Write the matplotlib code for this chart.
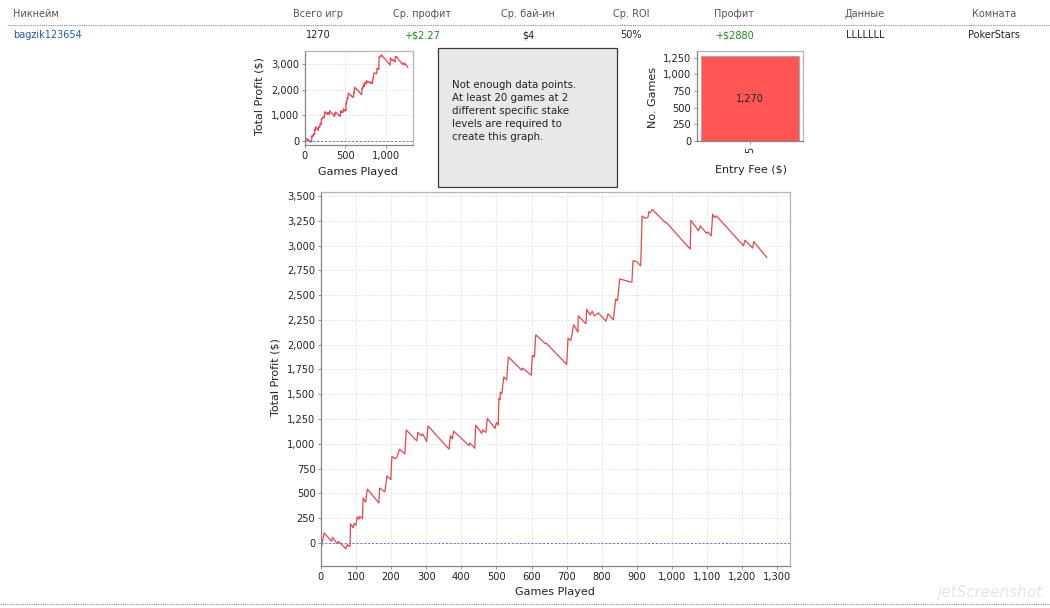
import matplotlib
matplotlib.use('Agg')
import matplotlib.pyplot as plt
from matplotlib.lines import Line2D
from matplotlib.patches import Rectangle
from matplotlib.ticker import FuncFormatter, MultipleLocator
import numpy as np

W, H = 1050, 608

# header table
header_cols = ['Никнейм', 'Всего игр', 'Ср. профит', 'Ср. бай-ин', 'Ср. ROI', 'Профит', 'Данные', 'Комната']
row_values = ['bagzik123654', '1270', '+$2.27', '$4', '50%', '+$2880', 'LLLLLLL', 'PokerStars']

# cumulative profit (games played, total profit $)
games = [0, 2, 3, 9, 30, 33, 46, 50, 71, 75, 80, 83, 84, 92, 94, 100, 103, 108, 110, 118,
         120, 127, 132, 165, 167, 182, 188, 199, 202, 211, 216, 224, 239, 243, 273, 276,
         286, 290, 301, 305, 365, 369, 374, 378, 422, 424, 438, 441, 458, 460, 470, 474,
         496, 500, 505, 507, 510, 511, 515, 521, 529, 534, 572, 574, 599, 602, 608, 612,
         639, 642, 700, 704, 712, 720, 732, 733, 755, 757, 767, 773, 779, 790, 812, 818,
         833, 840, 845, 851, 886, 889, 899, 911, 915, 923, 932, 934, 938, 944, 976, 987,
         1052, 1054, 1076, 1081, 1099, 1102, 1112, 1116, 1122, 1127, 1204, 1208, 1230,
         1233, 1270]
profit = [0, -30, 0, 102, 18, 58, -5, 15, -58, -15, -35, -30, 193, 153, 196, 180, 263, 240,
          269, 246, 454, 410, 544, 404, 554, 515, 678, 640, 872, 850, 865, 946, 899, 1140,
          1029, 1116, 1080, 1100, 1022, 1180, 946, 1082, 1050, 1128, 982, 1010, 956, 1188,
          1106, 1140, 1116, 1257, 1155, 1215, 1190, 1458, 1445, 1520, 1505, 1675, 1645,
          1876, 1742, 1765, 1692, 1893, 1876, 2100, 2010, 2015, 1802, 2066, 2040, 2201,
          2127, 2290, 2211, 2355, 2300, 2337, 2290, 2321, 2237, 2311, 2250, 2460, 2445,
          2663, 2630, 2846, 2840, 2796, 3298, 3275, 3285, 3341, 3330, 3365, 3248, 3221,
          2964, 3255, 3148, 3198, 3121, 3138, 3097, 3315, 3281, 3298, 2997, 3054, 2974,
          3040, 2880]

# games per entry fee
fee_labels = ['5']
fee_counts = [1270]

box_lines = ['Not enough data points.', 'At least 20 games at 2', 'different specific stake',
             'levels are required to', 'create this graph.']

LINE = '#e5474f'
ZERO = '#6f68d0'
TXT = '#222222'
plt.rcParams['font.family'] = 'DejaVu Sans'

fig = plt.figure(figsize=(W / 100, H / 100), dpi=100)
fig.patch.set_facecolor('white')


def fy(y):
    return 1 - y / H


def add_ax(left, top, right, bottom):
    return fig.add_axes([left / W, 1 - bottom / H, (right - left) / W, (bottom - top) / H])


def ftext(x, y, s, **kw):
    kw.setdefault('ha', 'center')
    kw.setdefault('va', 'center')
    kw.setdefault('color', TXT)
    fig.text(x / W, fy(y), s, **kw)


comma = FuncFormatter(lambda v, p: f'{int(v):,}')


def style_ax(ax, size=7.1):
    for side in ['left', 'bottom']:
        ax.spines[side].set_color('#858585')
    for side in ['top', 'right']:
        ax.spines[side].set_color('#b5b5b5')
    for sp in ax.spines.values():
        sp.set_linewidth(0.9)
    ax.tick_params(direction='out', length=2, width=0.6, color='#858585',
                   labelsize=size, labelcolor=TXT, pad=2)
    ax.grid(True, color='#dcdcdc', linestyle=(0, (2, 2)), linewidth=0.6)
    ax.set_axisbelow(True)


# header
header_x = [13, 318, 422, 528, 631, 734, 865, 994]
for i, (h, v) in enumerate(zip(header_cols, row_values)):
    ha = 'left' if i == 0 else 'center'
    ftext(header_x[i], 14, h, ha=ha, fontsize=7, color='#555555')
    col = TXT
    if i == 0:
        col = '#1f5ea8'
    elif v.startswith('+'):
        col = '#1f8a1f'
    ftext(header_x[i], 35, v, ha=ha, fontsize=7, color=col)

fig.add_artist(Line2D([8 / W, 1], [fy(24.5), fy(24.5)], transform=fig.transFigure,
                      color='#888888', linestyle=(0, (1, 1)), linewidth=0.8))
fig.add_artist(Line2D([0, 1], [fy(604), fy(604)], transform=fig.transFigure,
                      color='#888888', linestyle=(0, (1, 1)), linewidth=0.8))

# small profit chart
ax1 = add_ax(305, 51, 412.7, 145)
style_ax(ax1)
ax1.plot(games, profit, color=LINE, linewidth=0.9)
ax1.axhline(0, color=ZERO, linestyle=(0, (2, 2)), linewidth=0.7)
ax1.set_xlim(0, 1330)
ax1.set_ylim(-169, 3522)
ax1.xaxis.set_major_locator(MultipleLocator(500))
ax1.yaxis.set_major_locator(MultipleLocator(1000))
ax1.xaxis.set_major_formatter(comma)
ax1.yaxis.set_major_formatter(comma)
ftext(260, 96, 'Total Profit ($)', rotation=90, fontsize=8)
ftext(358, 172, 'Games Played', fontsize=8)

# message box
fig.add_artist(Rectangle((437.5 / W, fy(186.5)), 179 / W, 139 / H, transform=fig.transFigure,
                         facecolor='#e8e8e8', edgecolor='#3a3a3a', linewidth=0.9))
fig.text(451.5 / W, fy(80), '\n'.join(box_lines), ha='left', va='top', fontsize=7.4,
         color=TXT, linespacing=1.38)

# entry fee bar chart
ax2 = add_ax(696.7, 51, 803, 140.7)
style_ax(ax2)
ax2.grid(False)
ax2.yaxis.grid(True, color='#e6e6e6', linestyle=(0, (2, 2)), linewidth=0.6)
xpos = np.arange(len(fee_labels))
ax2.bar(xpos, fee_counts, width=0.925, color='#ff5555', edgecolor='#a8a8a8', linewidth=0.8)
for xp, c in zip(xpos, fee_counts):
    ax2.text(xp, c / 2, f'{c:,}', ha='center', va='center', fontsize=7, color=TXT)
ax2.set_xlim(-0.5, 0.5)
ax2.set_ylim(0, 1351)
ax2.set_xticks(xpos)
ax2.set_xticklabels(fee_labels, rotation=90)
ax2.yaxis.set_major_locator(MultipleLocator(250))
ax2.yaxis.set_major_formatter(comma)
ftext(653, 97, 'No. Games', rotation=90, fontsize=8)
ftext(751, 170, 'Entry Fee ($)', fontsize=8)

# main profit chart
ax = add_ax(321, 191.7, 789.5, 566)
style_ax(ax)
ax.plot(games, profit, color=LINE, linewidth=0.9)
ax.axhline(0, color=ZERO, linestyle=(0, (2, 2)), linewidth=0.7)
ax.set_xlim(0, 1335)
ax.set_ylim(-232, 3543)
ax.xaxis.set_major_locator(MultipleLocator(100))
ax.yaxis.set_major_locator(MultipleLocator(250))
ax.xaxis.set_major_formatter(comma)
ax.yaxis.set_major_formatter(comma)
ftext(276, 377, 'Total Profit ($)', rotation=90, fontsize=8)
ftext(555, 592, 'Games Played', fontsize=8)

# faint watermark
ftext(990, 592, 'jetScreenshot', fontsize=11, style='italic', color='#e4e4e4')

fig.savefig('out.png', dpi=100, facecolor='white')
